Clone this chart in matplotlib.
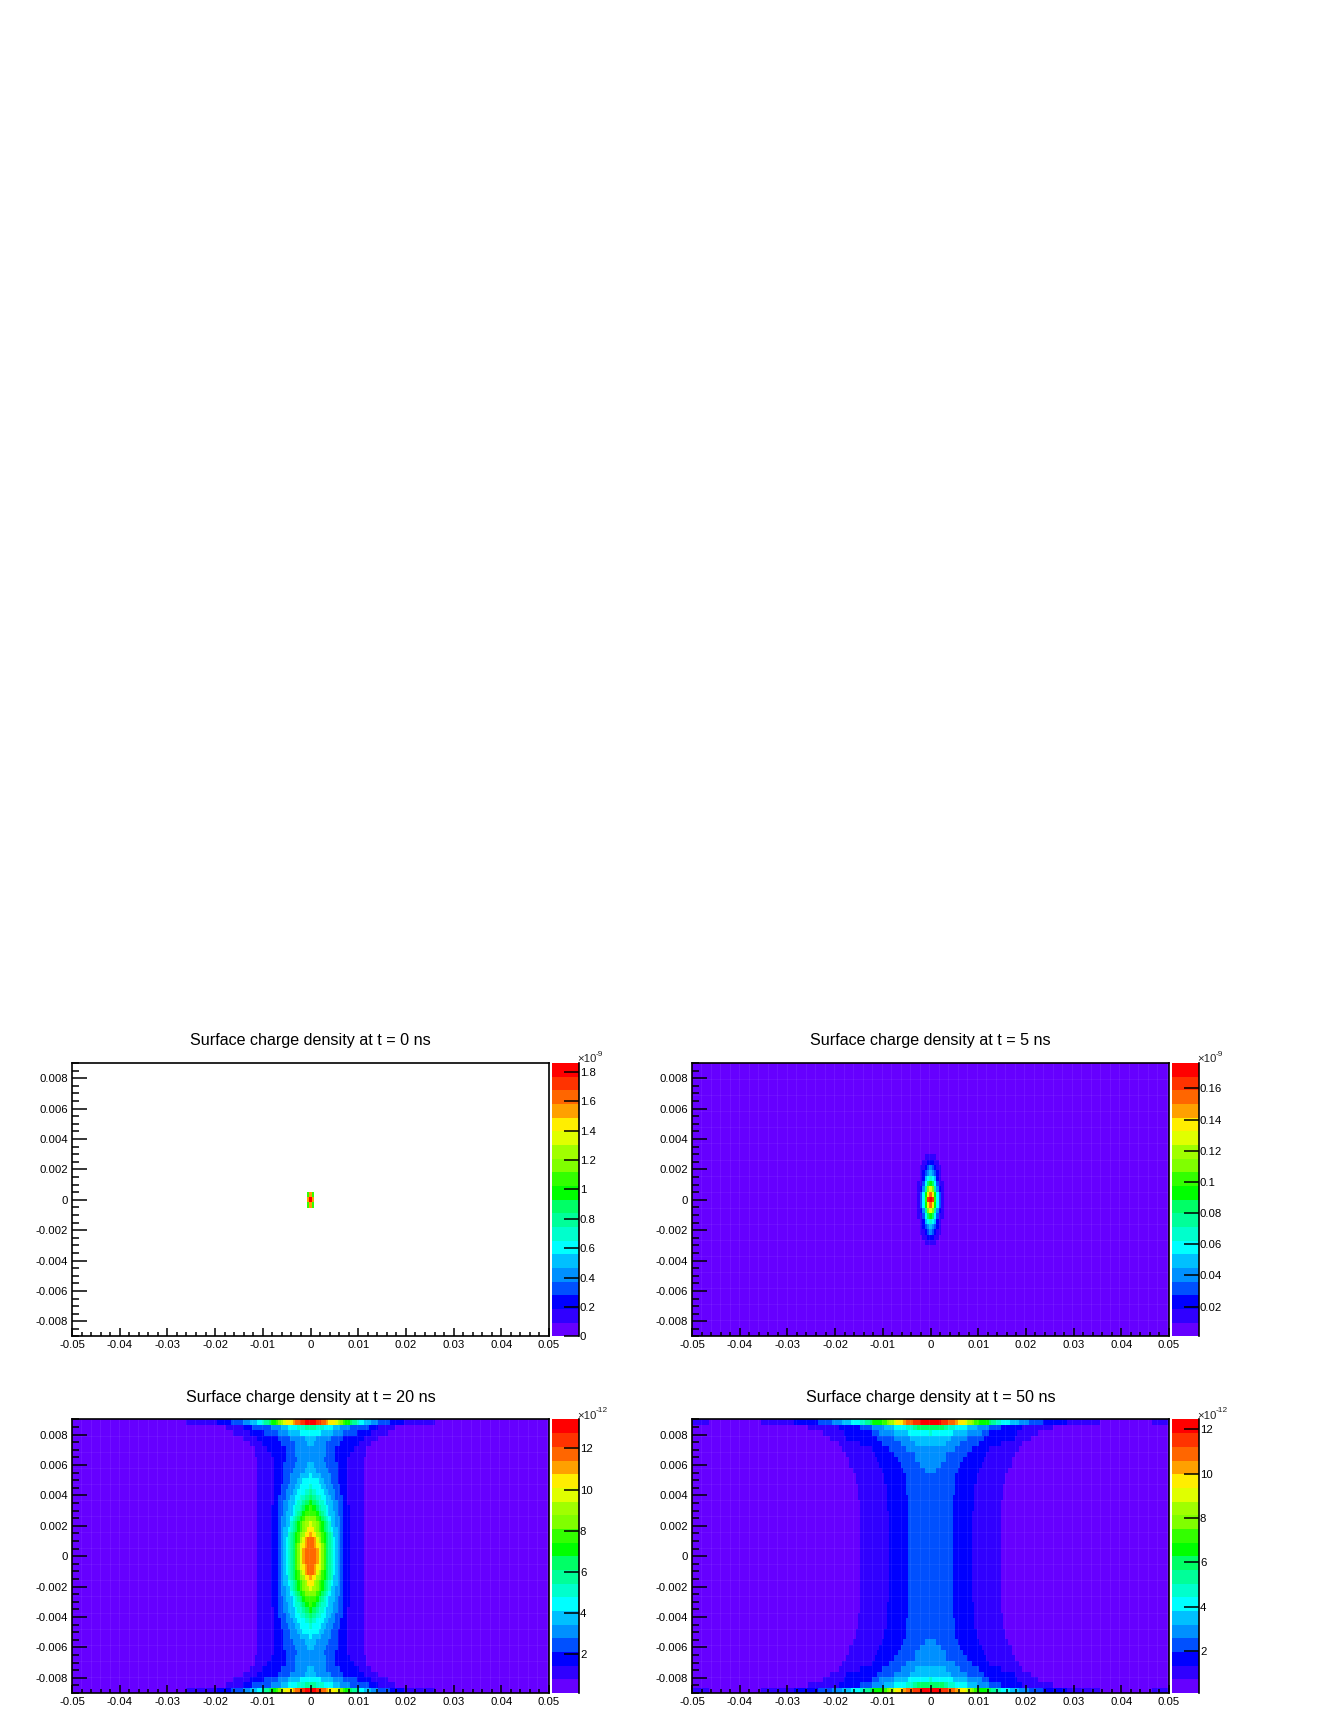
import numpy as np
import matplotlib
matplotlib.use('Agg')
import matplotlib.pyplot as plt
from matplotlib.colors import ListedColormap, BoundaryNorm

plt.rcParams['font.family'] = ['Liberation Sans', 'DejaVu Sans']

# 20 colour bands of the palette, lowest first
band_colors = ['#6600ff', '#3000ff', '#0000ff', '#0050ff', '#0090ff', '#00c0ff', '#00ffff',
               '#00ffcc', '#00ff99', '#00ff66', '#00ff00', '#33ff00', '#80ff00', '#a0ff00',
               '#e0ff00', '#ffee00', '#ffa000', '#ff6600', '#ff3300', '#ff0000']

x_ticks = [-0.05, -0.04, -0.03, -0.02, -0.01, 0, 0.01, 0.02, 0.03, 0.04, 0.05]
x_labels = ['-0.05', '-0.04', '-0.03', '-0.02', '-0.01', '0', '0.01', '0.02', '0.03', '0.04', '0.05']
y_ticks = [-0.008, -0.006, -0.004, -0.002, 0, 0.002, 0.004, 0.006, 0.008]
y_labels = ['-0.008', '-0.006', '-0.004', '-0.002', '0', '0.002', '0.004', '0.006', '0.008']

titles = ['Surface charge density at t = 0 ns', 'Surface charge density at t = 5 ns',
          'Surface charge density at t = 20 ns', 'Surface charge density at t = 50 ns']
exponents = ['-9', '-9', '-12', '-12']
z_ranges = [(0, 1.86), (0.0008, 0.1763), (0.12, 13.4), (0.1, 12.45)]
z_ticks = [[0, 0.2, 0.4, 0.6, 0.8, 1, 1.2, 1.4, 1.6, 1.8],
           [0.02, 0.04, 0.06, 0.08, 0.1, 0.12, 0.14, 0.16],
           [2, 4, 6, 8, 10, 12],
           [2, 4, 6, 8, 10, 12]]
z_labels = [['0', '0.2', '0.4', '0.6', '0.8', '1', '1.2', '1.4', '1.6', '1.8'],
            ['0.02', '0.04', '0.06', '0.08', '0.1', '0.12', '0.14', '0.16'],
            ['2', '4', '6', '8', '10', '12'],
            ['2', '4', '6', '8', '10', '12']]

# Each row runs from y=0 out to the plate. Entry k is how many columns from x=0
# the colour band k+1 (or a higher one) reaches in that row.
t0_rows = [[2] * 16 + [1] * 3,
           [2] * 11 + [1] * 5]

t5_rows = [[6, 5, 5, 4, 4, 4, 3, 3, 3, 3, 3, 2, 2, 2, 2, 2, 2, 2, 1],
           [6, 5, 5, 4, 4, 4, 3, 3, 3, 3, 2, 2, 2, 2, 2, 1, 1],
           [6, 5, 4, 4, 3, 3, 3, 3, 2, 2, 2, 2, 1, 1],
           [6, 4, 4, 3, 3, 3, 2, 2, 2, 1],
           [5, 4, 3, 3, 3, 2, 1],
           [5, 4, 3, 2, 1],
           [5, 3, 2, 1],
           [4, 2],
           [3]]

t20_rows = [[23, 17, 14, 13, 12, 11, 10, 9, 8, 7, 7, 6, 5, 5, 4, 4, 3],
            [23, 17, 14, 13, 12, 11, 10, 9, 8, 7, 7, 6, 5, 5, 4, 4, 3],
            [23, 17, 14, 13, 12, 11, 10, 9, 8, 7, 7, 6, 5, 5, 4, 3, 2],
            [23, 17, 14, 13, 12, 11, 10, 9, 8, 7, 6, 5, 5, 4, 3, 3, 2],
            [23, 17, 14, 13, 12, 10, 10, 9, 8, 7, 6, 5, 4, 3, 3, 1],
            [23, 17, 14, 13, 12, 10, 9, 8, 7, 6, 5, 4, 3, 2, 2],
            [23, 17, 14, 13, 11, 9, 9, 8, 7, 6, 5, 4, 3, 1],
            [23, 17, 14, 13, 11, 9, 8, 7, 6, 5, 4, 3],
            [23, 17, 14, 12, 11, 8, 7, 6, 5, 4, 3],
            [23, 17, 14, 12, 10, 8, 7, 5, 4, 3, 1],
            [23, 16, 14, 12, 10, 7, 6, 4, 3, 1],
            [23, 16, 14, 11, 9, 7, 5, 3, 1],
            [23, 16, 13, 11, 8, 6, 3, 1],
            [23, 16, 13, 10, 7, 5, 1],
            [23, 16, 12, 9, 6, 4],
            [23, 16, 12, 9, 5, 1],
            [23, 16, 12, 8, 3],
            [23, 16, 12, 7, 2],
            [23, 16, 11, 6],
            [24, 17, 11, 7],
            [24, 19, 11, 7],
            [26, 21, 13, 7, 2],
            [29, 23, 14, 9, 3],
            [33, 26, 20, 14, 10, 5],
            [36, 29, 25, 17, 13, 10, 6, 3],
            [53, 40, 34, 29, 26, 23, 21, 20, 18, 17, 15, 14, 13, 12, 11, 8, 7, 5, 3]]

t50_rows = [[30, 18, 10], [30, 18, 10], [30, 18, 10], [30, 18, 10], [30, 18, 10],
            [30, 18, 10], [30, 18, 10], [30, 18, 10], [30, 18, 10], [30, 19, 10],
            [30, 19, 10], [31, 19, 10], [31, 19, 11], [31, 19, 11], [32, 20, 11],
            [32, 20, 11], [33, 21, 12, 3], [35, 22, 13, 5], [35, 23, 14, 7],
            [36, 24, 16, 7], [38, 25, 18, 11], [39, 30, 21, 13, 7], [43, 36, 23, 16, 9],
            [46, 37, 25, 22, 16, 10, 1], [52, 39, 30, 25, 20, 16, 11, 8, 6],
            [72, 58, 48, 42, 38, 34, 30, 28, 26, 25, 21, 19, 18, 16, 15, 12, 11, 8, 5]]

panel_rows = [t0_rows, t5_rows, t20_rows, t50_rows]

n_cols = 201
n_rows = 51


def band_grid(rows):
    grid = np.zeros((n_rows, n_cols), dtype=int)
    mid_x, mid_y = n_cols // 2, n_rows // 2
    for r, widths in enumerate(rows):
        for k, w in enumerate(widths):
            grid[mid_y + r, mid_x - w + 1:mid_x + w] = k + 1
            grid[mid_y - r, mid_x - w + 1:mid_x + w] = k + 1
    return grid


def pix_axes(fig, left, top, right, bottom):
    W, H = fig.get_size_inches() * fig.dpi
    return fig.add_axes([left / W, 1 - bottom / H, (right - left) / W, (bottom - top) / H])


fig = plt.figure(figsize=(13.4, 17.35), dpi=100)

lefts = [72, 692]
tops = [1063, 1419.5]
cmap = ListedColormap(band_colors)
x_edges = np.linspace(-0.05, 0.05, n_cols + 1)
y_edges = np.linspace(-0.009, 0.009, n_rows + 1)

for i in range(4):
    left = lefts[i % 2]
    top = tops[i // 2]
    right, bottom = left + 477, top + 273.5
    ax = pix_axes(fig, left, top, right, bottom)

    zmin, zmax = z_ranges[i]
    bounds = np.linspace(zmin, zmax, 21)
    grid = band_grid(panel_rows[i])
    if i == 3:
        # small patches in the far corners along the plates
        for row in (0, n_rows - 1):
            grid[row, :7] = 1
            grid[row, -7:] = 1
    values = bounds[grid] + (bounds[1] - bounds[0]) / 2
    if i == 0:
        values = np.ma.masked_where(grid == 0, values)
    mesh = ax.pcolormesh(x_edges, y_edges, values, cmap=cmap,
                         norm=BoundaryNorm(bounds, 20), rasterized=True)
    if i > 0:
        # faint seams the renderer left between histogram cells
        for c in range(4, n_cols, 4):
            ax.axvline(x_edges[c], color='white', lw=0.5, alpha=0.10)
        for c in range(3, n_rows, 3):
            ax.axhline(y_edges[c], color='white', lw=0.5, alpha=0.08)

    ax.set_xlim(-0.05, 0.05)
    ax.set_ylim(-0.009, 0.009)
    ax.set_xticks(x_ticks, x_labels)
    ax.set_yticks(y_ticks, y_labels)
    ax.set_xticks(np.arange(-25, 26) * 0.002, minor=True)
    ax.set_yticks(np.arange(-18, 19) * 0.0005, minor=True)
    ax.tick_params(axis='x', which='major', direction='in', length=5.8, width=1.1, pad=2.7, labelsize=8.2)
    ax.tick_params(axis='x', which='minor', direction='in', length=2.7, width=1.1)
    ax.tick_params(axis='y', which='major', direction='in', length=10.5, width=1.1, pad=3, labelsize=8.2)
    ax.tick_params(axis='y', which='minor', direction='in', length=5.2, width=1.1)
    for s in ax.spines.values():
        s.set_linewidth(1.2)
    ax.set_axisbelow(False)

    W, H = fig.get_size_inches() * fig.dpi
    fig.text((left + right) / 2 / W, 1 - (top - 22) / H, titles[i], ha='center', va='center', fontsize=11.65)

    cax = pix_axes(fig, right + 3, top, right + 29.5, bottom)
    cb = fig.colorbar(mesh, cax=cax, spacing='proportional', drawedges=False)
    cb.outline.set_visible(False)
    cax.set_yticks(z_ticks[i], z_labels[i])
    cax.minorticks_off()
    cax.tick_params(axis='y', direction='in', length=10.5, width=1.1, pad=1, labelsize=8.2, right=True)
    cax.spines['right'].set_visible(True)
    cax.spines['right'].set_linewidth(1.2)

    fig.text((right + 28) / W, 1 - (top - 3.5) / H, '\u00d710', ha='left', va='center', fontsize=8.2, color='#222222')
    fig.text((right + 47) / W, 1 - (top - 9) / H, exponents[i], ha='left', va='center', fontsize=6, color='#222222')

fig.savefig('out.png', dpi=100, facecolor='white')
